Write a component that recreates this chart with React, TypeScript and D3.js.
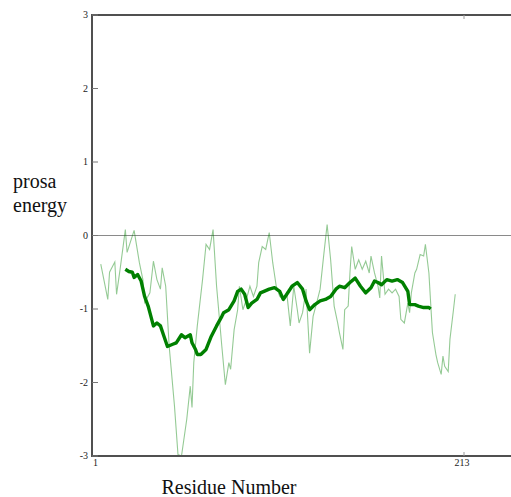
import * as d3 from "d3"

// residue number, energy (window 10 raw profile)
const rawResidues = [
  6, 10, 11, 14, 15, 17, 20, 21, 25, 28, 30, 31, 34, 36, 38, 40, 41, 43, 45, 48, 50, 52, 55, 57, 58, 59,
  61, 64, 66, 68, 70, 72, 75, 77, 79, 80, 82, 84, 85, 87, 89, 91, 93, 95, 96, 98, 100, 102, 104, 106, 108,
  110, 112, 114, 116, 118, 119, 121, 123, 125, 127, 129, 131, 133, 135, 137, 139, 141, 142, 144, 145, 147,
  148, 149, 151, 153, 155, 157, 159, 160, 162, 164, 165, 166, 168, 170, 172, 174, 176, 177, 179, 181, 182,
  183, 185, 186, 188, 190, 191, 193, 194, 195, 197, 198, 200, 201, 202, 204, 205, 207, 208,
]
const rawEnergy = [
  -0.39, -0.87, -0.5, -0.36, -0.8, -0.46, 0.08, -0.23, 0.07, -0.37, -0.6, -0.91, -0.78, -0.35, -0.6, -0.73,
  -0.44, -0.69, -1.51, -2.32, -2.98, -3.0, -2.5, -2.05, -2.34, -1.73,
  -1.23, -0.6, -0.12, -0.19, 0.08, -0.69, -1.51, -2.03, -1.73, -1.82, -1.28, -1.01, -0.69, -1.01, -0.87,
  -0.69, -0.83, -0.69, -0.37, -0.15, -0.19, 0.04, -0.37, -0.69, -0.83,
  -0.87, -0.78, -1.23, -0.69, -1.01, -1.19, -1.05, -0.73, -1.6, -1.1, -0.92, -0.73, -0.28, 0.15, -0.33,
  -0.96, -1.19, -1.32, -1.55, -1.01, -0.96,
  -0.51, -0.15, -0.46, -0.33, -0.46, -0.35, -0.51, -0.28, -0.51, -0.69, -0.85, -0.28, -0.8, -0.73, -0.78,
  -0.73, -0.83, -1.14, -1.19, -0.92, -1.05,
  -0.78, -0.51, -0.46, -0.26, -0.28, -0.12, -0.51, -0.92, -1.32, -1.62, -1.73, -1.89, -1.64, -1.78, -1.85,
  -1.41, -1.01, -0.8,
]

// smoothed profile (window 40)
const smoothResidues = [
  20, 22, 24, 25, 27, 29, 31, 33, 34, 36, 38, 40, 42, 44, 47, 49, 52, 54, 57, 58, 60, 61, 63, 66, 69, 72,
  75, 76, 79, 82, 84, 86, 88, 90, 92, 95, 97, 99, 102, 105, 108, 110, 112, 115, 118, 121, 123, 125, 128,
  131, 134, 137, 140, 142, 145, 148, 151, 154, 157, 160, 162, 164, 166, 169, 172, 175, 178, 181, 182, 185,
  187, 190, 193, 194,
]
const smoothEnergy = [
  -0.46, -0.49, -0.5, -0.57, -0.53, -0.62, -0.83, -0.96, -1.05, -1.23, -1.19, -1.23, -1.37, -1.51, -1.48,
  -1.46, -1.35, -1.39, -1.35, -1.46, -1.55, -1.62, -1.62, -1.55, -1.37, -1.23, -1.1, -1.05, -1.01, -0.89,
  -0.76, -0.73, -0.8, -0.98, -0.92, -0.87, -0.78, -0.76, -0.73, -0.71, -0.76, -0.87, -0.8, -0.69, -0.64,
  -0.73, -0.89, -1.01, -0.94, -0.89, -0.87, -0.83, -0.73, -0.69, -0.71, -0.64, -0.58, -0.69, -0.78, -0.71,
  -0.62, -0.64, -0.67, -0.6, -0.62, -0.6, -0.64, -0.76, -0.94, -0.94, -0.96, -0.98, -0.98, -1.0,
]

const yTicks = [3, 2, 1, 0, -1, -2, -3]
const xTicks = [1, 213]

export default function App() {
  const width = 511
  const height = 497
  const left = 92
  const top = 15
  const bottom = 456

  const x = d3.scaleLinear().domain([1, 213]).range([left, 464])
  const y = d3.scaleLinear().domain([-3, 3]).range([bottom, top])

  const line = d3
    .line<number>()
    .x((d, i) => x(d))
    .y((d, i) => 0)

  const rawPath = d3
    .line<[number, number]>()
    .x((d) => x(d[0]))
    .y((d) => y(d[1]))(rawResidues.map((r, i) => [r, rawEnergy[i]] as [number, number]))

  const smoothPath = d3
    .line<[number, number]>()
    .x((d) => x(d[0]))
    .y((d) => y(d[1]))(smoothResidues.map((r, i) => [r, smoothEnergy[i]] as [number, number]))

  void line

  const font = "'Liberation Serif', 'Times New Roman', serif"

  return (
    <svg
      width={width}
      height={height}
      style={{ position: "absolute", left: 0, top: 0, background: "#fff" }}
      fontFamily={font}
    >
      {/* zero line */}
      <line x1={left} x2={width} y1={y(0)} y2={y(0)} stroke="#8a8a8a" strokeWidth={1} />

      {/* data */}
      <path d={rawPath ?? ""} fill="none" stroke="#008000" strokeOpacity={0.42} strokeWidth={1.1} />
      <path d={smoothPath ?? ""} fill="none" stroke="#008000" strokeWidth={3.4} strokeLinejoin="round" />

      {/* frame */}
      <line x1={left} x2={left} y1={top} y2={bottom} stroke="#505050" strokeWidth={2} />
      <line x1={left - 1} x2={width} y1={top} y2={top} stroke="#505050" strokeWidth={2} />
      <line x1={left - 1} x2={width} y1={bottom} y2={bottom} stroke="#505050" strokeWidth={2} />

      {/* y ticks */}
      {yTicks.map((t) => (
        <g key={t}>
          <line x1={left} x2={left + 6} y1={y(t)} y2={y(t)} stroke="#777" strokeWidth={1} />
          <text x={left - 4} y={y(t) + 3} fontSize={10} textAnchor="end" fill="#222">
            {t}
          </text>
        </g>
      ))}

      {/* x ticks */}
      {xTicks.map((t, i) => (
        <g key={t}>
          {i > 0 && (
            <>
              <line x1={x(t)} x2={x(t)} y1={top} y2={top + 4} stroke="#999" strokeWidth={1} />
              <line x1={x(t)} x2={x(t)} y1={bottom - 4} y2={bottom} stroke="#999" strokeWidth={1} />
            </>
          )}
          <text
            x={i === 0 ? x(t) + 1 : x(t) - 2}
            y={bottom + 10}
            fontSize={10}
            textAnchor={i === 0 ? "start" : "middle"}
            fill="#222"
          >
            {t}
          </text>
        </g>
      ))}

      {/* axis titles */}
      <text x={13} y={188} fontSize={20} fill="#111">
        prosa
      </text>
      <text x={13} y={212} fontSize={20} fill="#111">
        energy
      </text>
      <text x={229} y={494} fontSize={20} textAnchor="middle" fill="#111">
        Residue Number
      </text>
    </svg>
  )
}
